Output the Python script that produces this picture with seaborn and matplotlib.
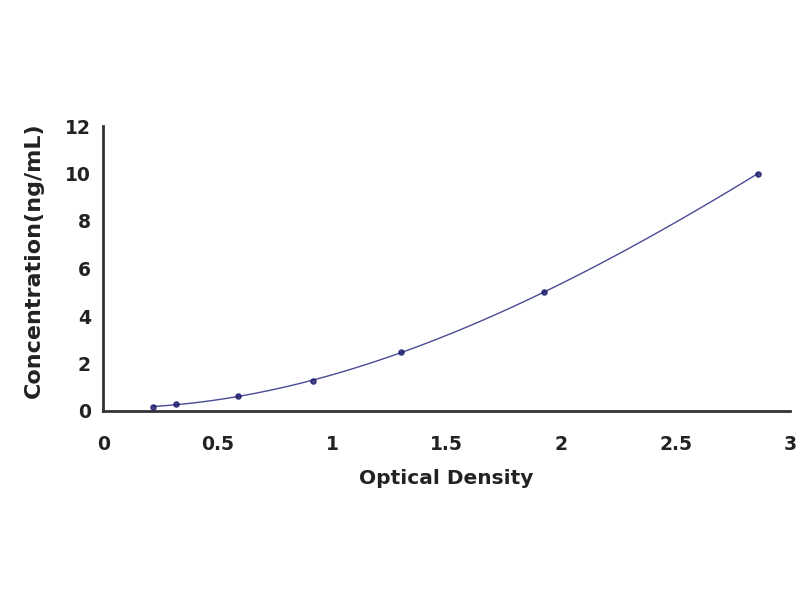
import matplotlib
matplotlib.use("Agg")
import matplotlib.pyplot as plt
import seaborn as sns
import pandas as pd

# standard curve points
od = [0.218, 0.319, 0.590, 0.917, 1.301, 1.926, 2.860]
conc = [0.156, 0.312, 0.625, 1.25, 2.5, 5.0, 10.0]

x_ticks = [0, 0.5, 1, 1.5, 2, 2.5, 3]
x_tick_labels = ["0", "0.5", "1", "1.5", "2", "2.5", "3"]
y_ticks = [0, 2, 4, 6, 8, 10, 12]

sns.set_style("white")
plt.rcParams['font.family'] = ['DejaVu Sans']

df = pd.DataFrame({"od": od, "conc": conc})

fig = plt.figure(figsize=(8, 6), dpi=100)
ax = fig.add_axes([0.129, 0.315, 0.8585, 0.475])

navy = "#1a1a6e"
sns.regplot(data=df, x="od", y="conc", order=3, ci=None, truncate=True, ax=ax,
            scatter_kws=dict(s=14, color=navy, marker="D", zorder=3),
            line_kws=dict(color="#4a4a96", lw=1.0))

ax.set_xlim(0, 3)
ax.set_ylim(0, 12)
ax.set_xticks(x_ticks)
ax.set_xticklabels(x_tick_labels)
ax.set_yticks(y_ticks)
for lab in ax.get_xticklabels() + ax.get_yticklabels():
    lab.set_fontweight("bold")
    lab.set_fontsize(13.5)
    lab.set_color("#222222")
ax.tick_params(direction="in", length=5, width=1.5, colors="#333333")
ax.tick_params(axis="x", labelcolor="#222222", pad=17)
ax.tick_params(axis="y", labelcolor="#222222", pad=9)

sns.despine(ax=ax)
for side in ("left", "bottom"):
    ax.spines[side].set_linewidth(2)
    ax.spines[side].set_color("#333333")

ax.set_xlabel("Optical Density", fontsize=14.5, fontweight="bold", labelpad=11, color="#222222")
ax.set_ylabel("Concentration(ng/mL)", fontsize=16, fontweight="bold", color="#222222")
ax.yaxis.set_label_coords(-0.086, 0.53)

fig.savefig("out.png", dpi=100)
